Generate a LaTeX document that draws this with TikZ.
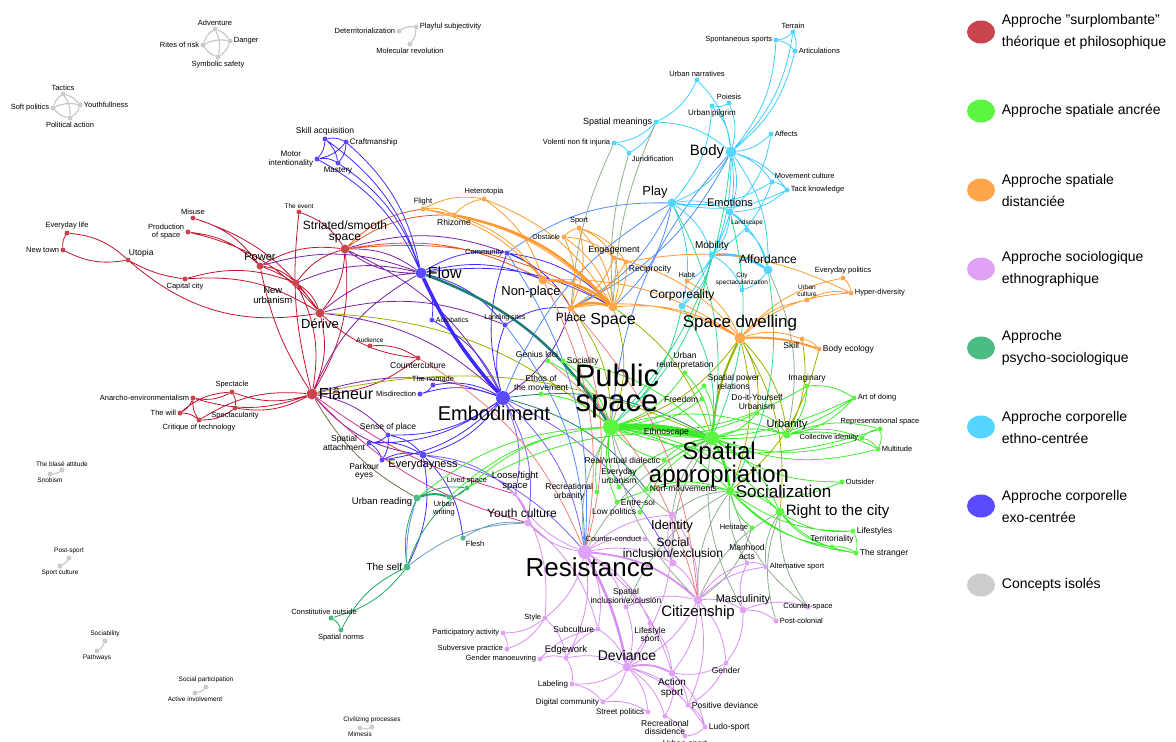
\documentclass[tikz,border=0pt]{standalone}
\usepackage{fontspec}
\setmainfont{Liberation Sans}
\usetikzlibrary{shapes.geometric}
\definecolor{cSurpl}{HTML}{C8444F}
\definecolor{cAncr}{HTML}{5CF542}
\definecolor{cDist}{HTML}{FFA64D}
\definecolor{cEthno}{HTML}{E0A2F5}
\definecolor{cPsycho}{HTML}{4BBD82}
\definecolor{cCorpe}{HTML}{55D5FF}
\definecolor{cCorpx}{HTML}{5B4BFF}
\definecolor{cIsol}{HTML}{CCCCCC}
\definecolor{eRed}{HTML}{C01530}
\definecolor{eGreen}{HTML}{3DEB2C}
\definecolor{eOrange}{HTML}{FF9A2E}
\definecolor{ePink}{HTML}{D98EF2}
\definecolor{eTeal}{HTML}{1FAA62}
\definecolor{eCyan}{HTML}{3FCFFF}
\definecolor{eBlue}{HTML}{3F2BFF}
\definecolor{eGray}{HTML}{C8C8C8}
\definecolor{eViolet}{HTML}{7A1FA8}
\definecolor{eOrgRed}{HTML}{E8531F}
\definecolor{eOlive}{HTML}{9AB000}
\definecolor{eSky}{HTML}{4F8CFF}
\definecolor{eMint}{HTML}{2FDC8C}
\definecolor{eSage}{HTML}{8FAE8F}
\definecolor{eSalmon}{HTML}{F0807A}
\definecolor{eMagenta}{HTML}{D63A8A}
\definecolor{eBrown}{HTML}{7A6A4A}
\definecolor{eDTeal}{HTML}{1F7A78}
\definecolor{eSteel}{HTML}{6E9CC0}
\definecolor{eVioBlue}{HTML}{7B5CFF}
\tikzstyle{concept} = [circle, inner sep=0pt, minimum size=5pt]
\tikzstyle{isol} = [concept, fill=cIsol]
\tikzstyle{surpl} = [concept, fill=cSurpl]
\tikzstyle{ancr} = [concept, fill=cAncr]
\tikzstyle{dist} = [concept, fill=cDist]
\tikzstyle{ethno} = [concept, fill=cEthno]
\tikzstyle{psycho} = [concept, fill=cPsycho]
\tikzstyle{corpe} = [concept, fill=cCorpe]
\tikzstyle{corpx} = [concept, fill=cCorpx]
\tikzstyle{dotm} = [minimum size=7pt]
\tikzstyle{dotb} = [minimum size=9pt]
\tikzstyle{doth} = [minimum size=11pt]
\tikzstyle{dotc} = [minimum size=14pt]
\tikzstyle{f65} = [font=\fontsize{6.5}{7}\selectfont]
\tikzstyle{f7} = [font=\fontsize{7}{7.5}\selectfont]
\tikzstyle{f8} = [font=\fontsize{8}{8.5}\selectfont]
\tikzstyle{f85} = [font=\fontsize{8.5}{8.5}\selectfont]
\tikzstyle{f9} = [font=\fontsize{9}{9.5}\selectfont]
\tikzstyle{f95} = [font=\fontsize{9.5}{10}\selectfont]
\tikzstyle{f10} = [font=\fontsize{10}{10}\selectfont]
\tikzstyle{f11} = [font=\fontsize{11}{11}\selectfont]
\tikzstyle{f12} = [font=\fontsize{12}{11.5}\selectfont]
\tikzstyle{f13} = [font=\fontsize{13}{13}\selectfont]
\tikzstyle{f14} = [font=\fontsize{14}{14}\selectfont]
\tikzstyle{f15} = [font=\fontsize{15}{15}\selectfont]
\tikzstyle{f16} = [font=\fontsize{16}{16}\selectfont]
\tikzstyle{f17} = [font=\fontsize{17}{17}\selectfont]
\tikzstyle{f20} = [font=\fontsize{20}{20}\selectfont]
\tikzstyle{f24} = [font=\fontsize{24}{22}\selectfont]
\tikzstyle{f26} = [font=\fontsize{26}{26}\selectfont]
\tikzstyle{f30} = [font=\fontsize{31}{25}\selectfont]
\tikzstyle{legdot} = [ellipse, inner sep=0pt, minimum width=28pt, minimum height=23pt]
\tikzstyle{legtxt} = [font=\fontsize{14}{22}\selectfont, align=left, inner sep=0pt, xshift=6pt]
\tikzstyle{link} = [line width=0.8pt, bend left=18]
\tikzstyle{lred} = [link, draw=eRed]
\tikzstyle{lgreen} = [link, draw=eGreen]
\tikzstyle{lorange} = [link, draw=eOrange]
\tikzstyle{lpink} = [link, draw=ePink]
\tikzstyle{lteal} = [link, draw=eTeal]
\tikzstyle{lcyan} = [link, draw=eCyan]
\tikzstyle{lblue} = [link, draw=eBlue]
\tikzstyle{lgray} = [link, draw=eGray, line width=1.2pt]
\tikzstyle{lviolet} = [link, draw=eViolet]
\tikzstyle{lorgred} = [link, draw=eOrgRed]
\tikzstyle{lolive} = [link, draw=eOlive]
\tikzstyle{lsky} = [link, draw=eSky]
\tikzstyle{lmint} = [link, draw=eMint]
\tikzstyle{lsage} = [link, draw=eSage]
\tikzstyle{lsalmon} = [link, draw=eSalmon]
\tikzstyle{lmagenta} = [link, draw=eMagenta]
\tikzstyle{lbrown} = [link, draw=eBrown]
\tikzstyle{ldteal} = [link, draw=eDTeal]
\tikzstyle{lsteel} = [link, draw=eSteel]
\tikzstyle{lvioblue} = [link, draw=eVioBlue]
\pgfdeclarelayer{edges}
\pgfsetlayers{edges,main}

\begin{document}
\begin{tikzpicture}[x=1pt, y=-1pt, label distance=0.5pt,
    every label/.style={inner sep=0.5pt, align=center, font=\fontsize{7.5}{8}\selectfont}]
\useasboundingbox (0,0) rectangle (1176,742);

% concepts isoles
\node (advent) [isol, label=above:Adventure] at (215,29) {};
\node (danger) [isol, label=right:Danger] at (230,41) {};
\node (rites) [isol, label=left:Rites of risk] at (203,45) {};
\node (symsafe) [isol, label=below:Symbolic safety] at (218,57) {};
\node (tactics) [isol, label=above:Tactics] at (63,94) {};
\node (youthful) [isol, label=right:Youthfullness] at (80,105) {};
\node (softpol) [isol, label=left:Soft politics] at (53,108) {};
\node (polact) [isol, label=below:Political action] at (70,118) {};
\node (deterr) [isol, label=left:Deterritorialization] at (399,31) {};
\node (playsub) [isol, label=right:Playful subjectivity] at (416,27) {};
\node (molrev) [isol, label=below:Molecular revolution] at (410,44) {};
\node (blase) [isol, label={[f65]above:The blasé attitude}] at (62,470) {};
\node (snob) [isol, label={[f65]below:Snobism}] at (50,474) {};
\node (postsport) [isol, label={[f65]above:Post-sport}] at (69,558) {};
\node (sportcult) [isol, label={[f65]below:Sport culture}] at (60,566) {};
\node (sociab) [isol, label={[f65]above:Sociability}] at (105,641) {};
\node (pathways) [isol, label={[f65]below:Pathways}] at (97,651) {};
\node (socpart) [isol, label={[f65]above:Social participation}] at (206,687) {};
\node (actinv) [isol, label={[f65]below:Active involvement}] at (195,693) {};
\node (civil) [isol, label={[f65]above:Civilizing processes}] at (372,727) {};
\node (mimesis) [isol, label={[f65]below:Mimesis}] at (360,728) {};

% approche surplombante
\node (evlife) [surpl, label=above:Everyday life] at (67,233) {};
\node (newtown) [surpl, label=left:New town] at (63,250) {};
\node (utopia) [surpl, label={[f85, xshift=-2pt]above right:Utopia}] at (128,260) {};
\node (misuse) [surpl, label=above:Misuse] at (193,218) {};
\node (prodspace) [surpl, label={left:Production\\of space}] at (188,232) {};
\node (capcity) [surpl, label=below:Capital city] at (185,279) {};
\node (power) [surpl, dotm, label={[f11]above:Power}] at (260,266) {};
\node (newurb) [surpl, dotm, label={[f95]below left:New\\urbanism}] at (296,283) {};
\node (derive) [surpl, dotb, label={[f13]below:Dérive}] at (320,313) {};
\node (theevent) [surpl, label={[f65]above:The event}] at (299,212) {};
\node (striated) [surpl, dotb, label={[f12]above:Striated/smooth\\space}] at (345,249) {};
\node (flaneur) [surpl, doth, label={[f16]right:Flâneur}] at (312,394) {};
\node (spectacle) [surpl, label=above:Spectacle] at (232,392) {};
\node (anarcho) [surpl, label=left:Anarcho-environmentalism] at (193,398) {};
\node (thewill) [surpl, label=left:The will] at (180,413) {};
\node (spectac) [surpl, label=below:Spectacularity] at (235,408) {};
\node (critique) [surpl, label=below:Critique of technology] at (199,420) {};
\node (audience) [surpl, label={[f65]above:Audience}] at (370,346) {};
\node (counterc) [surpl, label={[f85]below:Counterculture}] at (418,358) {};

% approche corporelle exo-centree
\node (skillacq) [corpx, label={[f85]above:Skill acquisition}] at (325,139) {};
\node (craft) [corpx, label={[f8]right:Craftmanship}] at (346,142) {};
\node (motor) [corpx, label={[f8]left:Motor\\intentionality}] at (317,159) {};
\node (mastery) [corpx, label={[f8]below:Mastery}] at (338,163) {};
\node (flow) [corpx, doth, label={[f16]right:Flow}] at (421,273) {};
\node (community) [corpx, label=left:Community] at (507,253) {};
\node (acrob) [corpx, label={[f7]right:Acrobatics}] at (432,320) {};
\node (landing) [corpx, label={[f7]above:Landing sites}] at (505,325) {};
\node (embod) [corpx, dotc, label={[f20, xshift=-9pt]below:Embodiment}] at (503,398) {};
\node (nomade) [corpx, label=above:The nomade] at (433,385) {};
\node (misdir) [corpx, label=left:Misdirection] at (420,394) {};
\node (senseplace) [corpx, label={[f85]above:Sense of place}] at (388,435) {};
\node (spatattach) [corpx, label={[f85]left:Spatial\\attachment}] at (369,443) {};
\node (parkour) [corpx, label={[f85]below left:Parkour\\eyes}] at (382,460) {};
\node (everyd) [corpx, dotm, label={[f11]below:Everydayness}] at (423,455) {};

% approche spatiale distanciee
\node (flight) [dist, label=above:Flight] at (423,209) {};
\node (hetero) [dist, label=above:Heterotopia] at (484,199) {};
\node (rhizome) [dist, label={[f85]below:Rhizome}] at (454,215) {};
\node (obstacle) [dist, label={[f7]left:Obstacle}] at (564,237) {};
\node (sport) [dist, label=above:Sport] at (579,228) {};
\node (engage) [dist, label={[f9]above:Engagement}] at (614,258) {};
\node (recip) [dist, label={[f85]below right:Reciprocity}] at (626,262) {};
\node (nonplace) [dist, dotb, label={[f13, xshift=-12pt]below:Non-place}] at (543,280) {};
\node (place) [dist, dotm, label={[f12]below:Place}] at (571,308) {};
\node (space) [dist, dotb, label={[f16]below:Space}] at (613,307) {};
\node (spacedw) [dist, doth, label={[f17]above:Space dwelling}] at (740,338) {};
\node (urbcult) [dist, label={[f65]above:Urban\\culture}] at (807,300) {};
\node (evpol) [dist, label=above:Everyday politics] at (843,278) {};
\node (hyperdiv) [dist, label=right:Hyper-diversity] at (851,293) {};
\node (skill) [dist, label={[f85]below left:Skill}] at (802,339) {};
\node (bodyeco) [dist, label={[f85]right:Body ecology}] at (819,349) {};
\node (habit) [dist, label={[f7]above:Habit}] at (687,281) {};

% approche corporelle ethno-centree
\node (terrain) [corpe, label=above:Terrain] at (793,32) {};
\node (spontsp) [corpe, label=left:Spontaneous sports] at (776,40) {};
\node (articul) [corpe, label=right:Articulations] at (795,51) {};
\node (urbnarr) [corpe, label=above:Urban narratives] at (697,80) {};
\node (poiesis) [corpe, label=above:Poiesis] at (729,103) {};
\node (urbpilg) [corpe, label={[f8]below:Urban pilgrim}] at (712,106) {};
\node (spatmean) [corpe, label={[f9]left:Spatial meanings}] at (656,122) {};
\node (volenti) [corpe, label=left:Volenti non fit injuria] at (614,143) {};
\node (jurid) [corpe, label=below right:Juridification] at (629,153) {};
\node (affects) [corpe, label=right:Affects] at (771,134) {};
\node (body) [corpe, doth, label={[f15]left:Body}] at (731,152) {};
\node (movecult) [corpe, label=above right:Movement culture] at (772,182) {};
\node (tacit) [corpe, label=right:Tacit knowledge] at (787,190) {};
\node (play) [corpe, dotb, label={[f13]above left:Play}] at (672,203) {};
\node (emotions) [corpe, dotm, label={[f11]above:Emotions}] at (730,212) {};
\node (landscape) [corpe, label={[f65]above:Landscape}] at (747,230) {};
\node (mobility) [corpe, dotm, label={[f10]above:Mobility}] at (712,255) {};
\node (affordance) [corpe, dotb, label={[f12]above:Affordance}] at (768,270) {};
\node (cityspec) [corpe, label={[f65]above:City\\spectacularization}] at (742,290) {};
\node (corpor) [corpe, dotm, label={[f12]above:Corporeality}] at (682,306) {};

% approche spatiale ancree
\node (pubspace) [ancr, dotc, minimum size=16pt, label={[f30, xshift=6pt]above:Public\\space}] at (611,427) {};
\node (spatapp) [ancr, dotc, label={[f24, xshift=7pt, label distance=-4pt]below:Spatial\\appropriation}] at (712,438) {};
\node (social) [ancr, dotb, label={[f17]right:Socialization}] at (730,491) {};
\node (rightcity) [ancr, dotb, label={[f15]right:Right to the city}] at (780,512) {};
\node (urbanity) [ancr, dotm, label={[f11]above:Urbanity}] at (787,435) {};
\node (collid) [ancr, label=left:Collective identity] at (862,438) {};
\node (repspace) [ancr, label=above:Representational space] at (880,429) {};
\node (multitude) [ancr, label=right:Multitude] at (878,449) {};
\node (artdoing) [ancr, label=right:Art of doing] at (854,398) {};
\node (imaginary) [ancr, label={[f85]above:Imaginary}] at (807,386) {};
\node (diy) [ancr, label={[f85]above:Do-it-Yourself\\Urbanism}] at (757,413) {};
\node (spatpow) [ancr, label={[f85, yshift=4pt]right:Spatial power\\relations}] at (704,386) {};
\node (urbreint) [ancr, label={[f85]above:Urban\\reinterpretation}] at (685,373) {};
\node (freedom) [ancr, label={[f85]left:Freedom}] at (702,399) {};
\node (ethnosc) [ancr, label={[f85]right:Ethnoscape}] at (640,432) {};
\node (genius) [ancr, label={[f85, xshift=-11pt]above:Genius loci}] at (548,361) {};
\node (sociality) [ancr, label={[f85]right:Sociality}] at (563,361) {};
\node (ethos) [ancr, label={[f85]above:Ethos of\\the movement}] at (541,394) {};
\node (realvirt) [ancr, label={[f85]left:Real/virtual dialectic}] at (664,460) {};
\node (evurb) [ancr, label={[f85]above:Everyday\\urbanism}] at (619,487) {};
\node (recurb) [ancr, label={[f85]left:Recreational\\urbanity}] at (597,492) {};
\node (nonmouv) [ancr, label={[f85]right:Non-mouvements}] at (646,489) {};
\node (entresoi) [ancr, label={[f85]right:Entre-soi}] at (617,502) {};
\node (lowpol) [ancr, label={[f85]left:Low politics}] at (640,512) {};
\node (outsider) [ancr, label=right:Outsider] at (842,482) {};
\node (lifestyles) [ancr, label={[f85]right:Lifestyles}] at (853,531) {};
\node (territ) [ancr, label={[f85]above:Territoriality}] at (832,547) {};
\node (stranger) [ancr, label={[f85]right:The stranger}] at (856,553) {};
\node (heritage) [ancr, label=left:Heritage] at (752,528) {};

% approche psycho-sociologique
\node (urbread) [psycho, dotm, label={[f95, yshift=-4pt]left:Urban reading}] at (417,498) {};
\node (urbwrit) [psycho, label={[xshift=-5pt]below:Urban\\writing}] at (449,497) {};
\node (lived) [psycho, label=above:Lived space] at (467,488) {};
\node (flesh) [psycho, label=below right:Flesh] at (463,538) {};
\node (theself) [psycho, dotm, label={[f10]left:The self}] at (407,567) {};
\node (constout) [psycho, label={[xshift=-7pt]above:Constitutive outside}] at (331,618) {};
\node (spatnorms) [psycho, label=below:Spatial norms] at (341,630) {};

% approche sociologique ethnographique
\node (resist) [ethno, dotc, label={[f26, xshift=5pt, label distance=-2pt]below:Resistance}] at (585,552) {};
\node (loosetight) [ethno, label={[f95]above:Loose/tight\\space}] at (515,494) {};
\node (youthcult) [ethno, dotm, label={[f12, xshift=-6pt]above:Youth culture}] at (528,523) {};
\node (counterco) [ethno, label=left:Counter-conduct] at (645,539) {};
\node (identity) [ethno, dotm, label={[f13]below:Identity}] at (672,515) {};
\node (socincl) [ethno, dotm, label={[f12]above:Social\\inclusion/exclusion}] at (673,563) {};
\node (spatincl) [ethno, label={[f85]above:Spatial\\inclusion/exclusion}] at (626,607) {};
\node (citizen) [ethno, dotb, label={[f15]below:Citizenship}] at (698,600) {};
\node (masculin) [ethno, dotm, label={[f11]above:Masculinity}] at (743,610) {};
\node (manhood) [ethno, label={[f85]above:Manhood\\acts}] at (747,563) {};
\node (altsport) [ethno, label=right:Alternative sport] at (766,567) {};
\node (counterspace) [ethno, label=center:Counter-space] at (808,607) {};
\node (postcol) [ethno, label=right:Post-colonial] at (776,621) {};
\node (style) [ethno, label=left:Style] at (545,618) {};
\node (subcult) [ethno, label={[f85]left:Subculture}] at (598,629) {};
\node (particip) [ethno, label=left:Participatory activity] at (503,633) {};
\node (subvers) [ethno, label=left:Subversive practice] at (507,649) {};
\node (genderman) [ethno, label=left:Gender manoeuvring] at (540,659) {};
\node (edgework) [ethno, label={[f95]above:Edgework}] at (566,658) {};
\node (deviance) [ethno, dotb, label={[f14]above:Deviance}] at (627,667) {};
\node (lifesport) [ethno, label={[f85]below:Lifestyle\\sport}] at (650,623) {};
\node (labeling) [ethno, label={[f8]left:Labeling}] at (572,684) {};
\node (digital) [ethno, label={[f8]left:Digital community}] at (603,702) {};
\node (streetpol) [ethno, label={[f8]left:Street politics}] at (648,712) {};
\node (actsport) [ethno, dotm, label={[f10]below:Action\\sport}] at (672,673) {};
\node (gender) [ethno, label={[f85]below:Gender}] at (726,663) {};
\node (posdev) [ethno, label={[f85]right:Positive deviance}] at (688,705) {};
\node (recdiss) [ethno, label={[f85]below:Recreational\\dissidence}] at (665,716) {};
\node (ludo) [ethno, label={[f85]right:Ludo-sport}] at (705,727) {};
\node (urbsport) [ethno, label={[f85]below:Urban sport}] at (685,736) {};

% legende
\node (kSurpl) [legdot, fill=cSurpl, label={[legtxt]right:Approche "surplombante"\\théorique et philosophique}] at (981,32) {};
\node (kAncr) [legdot, fill=cAncr, label={[legtxt]right:Approche spatiale ancrée}] at (981,111) {};
\node (kDist) [legdot, fill=cDist, label={[legtxt]right:Approche spatiale\\distanciée}] at (981,190) {};
\node (kEthno) [legdot, fill=cEthno, label={[legtxt]right:Approche sociologique\\ethnographique}] at (981,269) {};
\node (kPsycho) [legdot, fill=cPsycho, label={[legtxt]right:Approche\\psycho-sociologique}] at (981,348) {};
\node (kCorpe) [legdot, fill=cCorpe, label={[legtxt]right:Approche corporelle\\ethno-centrée}] at (981,427) {};
\node (kCorpx) [legdot, fill=cCorpx, label={[legtxt]right:Approche corporelle\\exo-centrée}] at (981,506) {};
\node (kIsol) [legdot, fill=cIsol, label={[legtxt]right:Concepts isolés}] at (981,585) {};

\begin{pgfonlayer}{edges}
\draw [lgray] (advent) to (danger) (rites) to (advent) (symsafe) to (rites) (danger) to (symsafe) (rites) to (danger) (advent) to (symsafe)
  (tactics) to (youthful) (softpol) to (tactics) (polact) to (softpol) (youthful) to (polact) (softpol) to (youthful) (tactics) to (polact)
  (deterr) to (playsub) (playsub) to (molrev) (blase) to (snob) (postsport) to (sportcult) (sociab) to (pathways) (socpart) to (actinv) (civil) to (mimesis);

\draw [lred] (evlife) to (utopia) (utopia) to (newtown) (newtown) to (evlife)
  (utopia) to[bend right=10] (capcity) (utopia) to[bend right=25] (derive) (capcity) to (newurb) (capcity) to (derive)
  (misuse) to (power) (misuse) to (derive) (prodspace) to (power) (prodspace) to (derive)
  (power) to (newurb) (power) to (derive) (power) to[bend right=10] (flaneur) (power) to (striated)
  (newurb) to (flaneur) (newurb) to (striated) (derive) to (flaneur) (striated) to (derive) (striated) to (flaneur) (newurb) to (derive)
  (theevent) to (striated) (theevent) to[bend right=10] (flaneur)
  (flaneur) to (spectacle) (flaneur) to (spectac) (flaneur) to (anarcho) (critique) to (flaneur)
  (spectacle) to (anarcho) (spectacle) to (spectac) (anarcho) to (thewill) (critique) to (anarcho) (thewill) to (critique) (thewill) to (spectacle) (spectac) to (critique)
  (audience) to (counterc) (counterc) to (flaneur) (counterc) to (derive);

\draw [lviolet] (power) to (flow) (striated) to (flow) (flow) to (striated) (newurb) to (flow) (derive) to (flow) (flaneur) to (flow)
  (flaneur) to (embod) (derive) to (embod) (striated) to (embod) (flaneur) to[bend right=20] (everyd) (flaneur) to (senseplace)
  (place) to (embod) (striated) to (community) (derive) to (landing);
\draw [lorgred] (striated) to (flight) (striated) to (rhizome) (striated) to (space) (striated) to (nonplace);
\draw [lolive] (derive) to (pubspace) (flaneur) to (spatapp) (spacedw) to (pubspace) (spacedw) to (diy) (spacedw) to (social)
  (spacedw) to (rightcity) (skill) to (urbanity) (bodyeco) to (social) (space) to (spatapp) (space) to (pubspace) (place) to (pubspace) (spacedw) to (urbanity);
\draw [lolive, line width=2pt] (spacedw) to[bend right=10] (spatapp);

\draw [lblue] (skillacq) to (craft) (skillacq) to (motor) (skillacq) to (mastery) (craft) to (motor) (craft) to (mastery) (motor) to (mastery)
  (skillacq) to (flow) (craft) to (flow) (motor) to (flow) (mastery) to (flow)
  (flow) to (community) (flow) to (acrob) (flow) to (landing) (embod) to (community) (embod) to (landing) (acrob) to (embod)
  (nomade) to (misdir) (nomade) to (embod) (misdir) to (embod)
  (senseplace) to (spatattach) (senseplace) to (everyd) (senseplace) to (parkour) (spatattach) to (parkour) (spatattach) to (everyd) (parkour) to (everyd)
  (embod) to (senseplace) (embod) to (spatattach) (embod) to (everyd) (embod) to (parkour)
  (community) to (place) (community) to (space) (flow) to (space) (flow) to (nonplace) (landing) to (place) (community) to (nonplace)
  (everyd) to (theself) (everyd) to (flesh);
\draw [lblue, line width=3.5pt, bend right=8] (flow) to (embod);
\draw [lvioblue] (embod) to (resist) (everyd) to (resist) (embod) to (socincl) (embod) to (youthcult) (everyd) to (loosetight) (embod) to (loosetight);
\draw [lsky] (community) to (play) (embod) to (play) (landing) to (resist) (community) to (resist) (pubspace) to (body) (urbread) to[bend right=10] (theself);
\draw [ldteal] (embod) to (nonmouv) (embod) to (spatapp);
\draw [ldteal, line width=2.5pt] (flow) to (pubspace);

\draw [lcyan] (terrain) to (spontsp) (terrain) to (articul) (spontsp) to (articul)
  (terrain) to (body) (spontsp) to (body) (articul) to (body)
  (urbnarr) to (spatmean) (urbnarr) to (body) (poiesis) to (urbpilg) (poiesis) to (body) (urbpilg) to (body) (urbpilg) to (play)
  (spatmean) to (volenti) (spatmean) to (jurid) (spatmean) to (body) (volenti) to (jurid)
  (affects) to (body) (affects) to (emotions)
  (body) to (play) (body) to (emotions) (body) to (movecult) (body) to (tacit) (body) to (mobility) (body) to (affordance)
  (movecult) to (tacit) (movecult) to (play) (tacit) to (play) (tacit) to (emotions) (movecult) to (mobility)
  (play) to (emotions) (play) to (mobility) (emotions) to (landscape) (emotions) to (mobility) (emotions) to (affordance) (landscape) to (affordance)
  (mobility) to (corpor) (affordance) to (cityspec) (play) to (corpor) (body) to (corpor) (mobility) to (habit) (mobility) to (cityspec);
\draw [lcyan, line width=2.5pt] (mobility) to (affordance);
\draw [lsky] (play) to (space) (play) to (place) (body) to (place);
\draw [lmint] (body) to (pubspace) (play) to (spatapp) (emotions) to (spatapp) (corpor) to (spatapp) (mobility) to (pubspace) (corpor) to (pubspace) (affordance) to (social);
\draw [lsage] (spatmean) to[bend right=10] (space) (jurid) to[bend right=10] (space) (volenti) to[bend right=10] (place) (affordance) to (urbanity)
  (identity) to (spatapp) (identity) to (social) (identity) to (pubspace) (citizen) to (social) (citizen) to (rightcity) (citizen) to (pubspace)
  (heritage) to (citizen) (counterspace) to (social) (counterspace) to (rightcity) (postcol) to (rightcity) (socincl) to (spatapp)
  (resist) to (spatapp) (resist) to (pubspace) (spatincl) to (social) (manhood) to (social) (altsport) to (rightcity) (masculin) to (spatapp);

\draw [lorange] (flight) to (rhizome) (flight) to (hetero) (rhizome) to (hetero)
  (flight) to (space) (hetero) to (space) (hetero) to (nonplace) (rhizome) to (nonplace) (flight) to (nonplace)
  (obstacle) to (sport) (obstacle) to (engage) (sport) to (engage) (sport) to (recip) (engage) to (recip)
  (obstacle) to (space) (sport) to (space) (engage) to (space) (recip) to (space) (engage) to (place) (recip) to (place) (obstacle) to (place) (sport) to (place)
  (nonplace) to (place) (space) to (spacedw) (place) to (spacedw) (nonplace) to (spacedw) (engage) to (spacedw) (habit) to (spacedw) (recip) to (hyperdiv)
  (spacedw) to (urbcult) (spacedw) to (evpol) (spacedw) to (hyperdiv) (evpol) to (hyperdiv) (urbcult) to (hyperdiv) (spacedw) to (skill) (skill) to (bodyeco);
\draw [lorange, line width=2.5pt] (rhizome) to (space) (nonplace) to (space) (place) to (space);
\draw [lorange, line width=2pt, bend left=10] (spacedw) to (bodyeco);

\draw [lgreen] (pubspace) to (social) (pubspace) to (rightcity) (spatapp) to (rightcity) (social) to (rightcity)
  (pubspace) to (urbanity) (spatapp) to (urbanity) (urbanity) to (collid) (urbanity) to (repspace) (urbanity) to (multitude)
  (collid) to (repspace) (collid) to (multitude) (repspace) to (multitude)
  (artdoing) to (urbanity) (artdoing) to (pubspace) (artdoing) to (spatapp) (imaginary) to (urbanity) (imaginary) to (pubspace) (imaginary) to (artdoing)
  (diy) to (pubspace) (diy) to (spatapp) (diy) to (urbanity) (spatpow) to (pubspace) (spatpow) to (spatapp) (urbreint) to (pubspace) (urbreint) to (spatapp)
  (freedom) to (pubspace) (ethnosc) to (pubspace) (ethnosc) to (spatapp) (sociality) to (pubspace) (genius) to (pubspace) (ethos) to (pubspace)
  (realvirt) to (pubspace) (realvirt) to (spatapp) (evurb) to (pubspace) (evurb) to (spatapp) (recurb) to (pubspace) (nonmouv) to (spatapp) (nonmouv) to (social)
  (entresoi) to (pubspace) (entresoi) to (social) (lowpol) to (spatapp)
  (outsider) to (social) (outsider) to (spatapp) (lifestyles) to (rightcity) (lifestyles) to (social) (territ) to (rightcity) (territ) to (social)
  (stranger) to (rightcity) (stranger) to (social) (territ) to (stranger) (lifestyles) to (stranger) (heritage) to (social)
  (repspace) to (pubspace) (multitude) to (spatapp) (collid) to (spatapp) (sociality) to (spatapp)
  (urbread) to (pubspace) (urbwrit) to (pubspace) (lived) to (pubspace) (lived) to (spatapp);
\draw [lgreen, line width=6pt, bend left=8] (pubspace) to (spatapp);
\draw [lgreen, line width=2.5pt, bend left=10] (spatapp) to (social);

\draw [lteal] (urbread) to (lived) (urbread) to[bend right=15] (theself) (theself) to (constout) (spatnorms) to (theself) (constout) to (spatnorms) (theself) to (lived) (lived) to (urbwrit);
\draw [lteal, line width=2pt] (urbread) to (urbwrit);
\draw [lsteel] (theself) to (youthcult) (flesh) to (youthcult);

\draw [lpink] (resist) to (loosetight) (resist) to (youthcult) (loosetight) to (youthcult) (resist) to (counterco) (resist) to (socincl) (resist) to (spatincl)
  (resist) to (style) (resist) to (subcult) (resist) to (edgework) (resist) to (lifesport) (resist) to (actsport) (resist) to (identity)
  (socincl) to (citizen) (socincl) to (identity) (spatincl) to (citizen) (spatincl) to (deviance)
  (citizen) to (masculin) (citizen) to (manhood) (citizen) to (altsport) (citizen) to (gender) (citizen) to (deviance) (citizen) to (actsport) (citizen) to (posdev)
  (masculin) to (manhood) (masculin) to (gender) (masculin) to (postcol) (manhood) to (altsport) (masculin) to (counterspace)
  (style) to (particip) (style) to (subvers) (particip) to (subvers) (genderman) to (edgework) (genderman) to (subcult) (edgework) to (deviance)
  (edgework) to (subcult) (edgework) to (labeling) (subcult) to (deviance) (style) to (edgework)
  (deviance) to (labeling) (deviance) to (digital) (deviance) to (streetpol) (deviance) to (posdev) (deviance) to (recdiss) (deviance) to (ludo)
  (actsport) to (posdev) (actsport) to (ludo) (actsport) to (recdiss) (posdev) to (ludo) (recdiss) to (urbsport) (ludo) to (urbsport)
  (lifesport) to (actsport) (lifesport) to (deviance) (digital) to (streetpol) (labeling) to (digital) (gender) to (actsport) (gender) to (posdev)
  (identity) to (citizen) (identity) to (deviance) (youthcult) to (subcult) (loosetight) to (style);
\draw [lpink, line width=2.5pt, bend left=8] (resist) to (deviance);
\draw [lpink, line width=1.8pt] (deviance) to (actsport) (resist) to (citizen);

\draw [lsalmon] (counterc) to (resist) (genius) to (citizen) (place) to (citizen) (nonplace) to (resist) (place) to (resist);
\draw [lmagenta] (flaneur) to[bend right=15] (youthcult) (flaneur) to[bend right=10] (loosetight);
\draw [lbrown] (flaneur) to[bend right=15] (urbread);
\end{pgfonlayer}
\end{tikzpicture}
\end{document}
